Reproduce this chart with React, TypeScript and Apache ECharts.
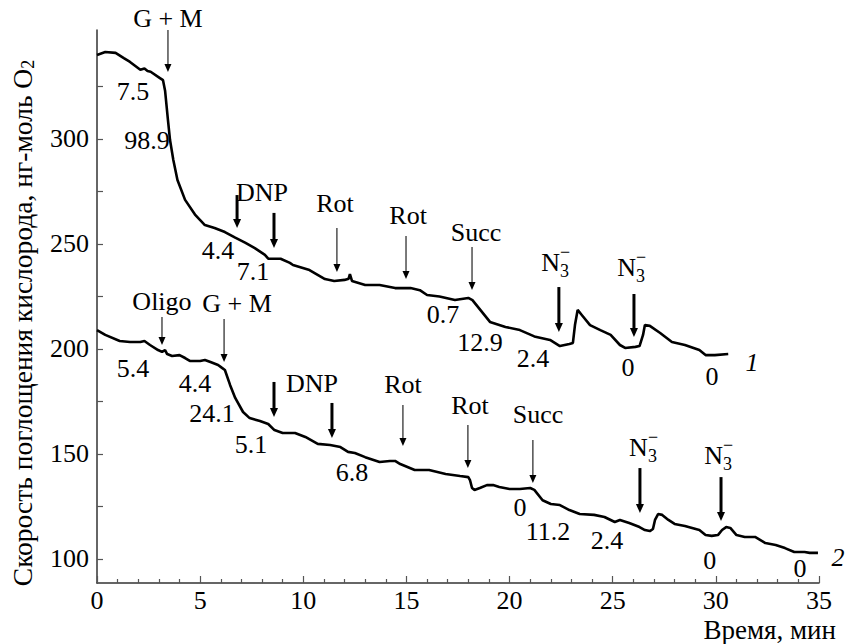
import React, { useEffect, useRef } from "react";
import * as echarts from "echarts";

// Trace 1 (upper curve): [time, min ; rate value]
const trace1: [number, number][] = [
  [0, 340], [0.4, 341.4], [0.9, 341], [1.3, 338.5], [1.6, 336.7], [2.1, 333], [2.3, 333.6], [2.45, 332.4],
  [2.6, 332], [3.05, 329], [3.2, 328], [3.3, 323], [3.44, 309], [3.54, 299.5], [3.7, 290], [3.9, 280.5],
  [4.27, 271], [4.75, 264], [5.23, 259], [5.7, 257.6], [6.2, 255.7], [6.7, 253], [7.2, 250.5], [7.65, 248],
  [8.14, 244.8], [8.3, 243], [8.9, 243], [9.35, 241], [9.5, 240], [10.3, 237.6], [11.05, 233.3], [11.5, 232.4],
  [12.0, 232.9], [12.2, 233.5], [12.26, 235.7], [12.36, 232.4], [13, 230.5], [13.7, 230.5], [14.45, 229],
  [15.2, 229], [15.65, 228], [16.0, 225.7], [16.6, 225], [17.35, 223.3], [18.0, 224.3], [18.2, 223.3],
  [19.05, 212.9], [19.8, 210.5], [20.5, 209], [21.2, 206], [21.96, 204.3], [22.44, 201.4], [22.9, 202.4],
  [23.07, 202.9], [23.17, 211.4], [23.3, 218.6], [23.5, 216.2], [23.9, 211.4], [24.4, 209], [24.9, 206.7],
  [25.35, 201.9], [25.6, 200.5], [26.1, 201], [26.3, 201.4], [26.47, 206.7], [26.56, 211.4], [26.8, 211],
  [27.3, 207.6], [27.87, 203.3], [28.5, 201.9], [29.2, 199.5], [29.5, 197.1], [29.95, 197.1], [30.6, 197.6],
];

// Trace 2 (lower curve)
const trace2: [number, number][] = [
  [0, 209], [0.4, 206.7], [1.1, 203.8], [1.6, 203.3], [2.1, 203.3], [2.3, 203.8], [2.57, 201.9], [2.96, 199.5],
  [3.15, 198.6], [3.3, 199.5], [3.4, 197.6], [3.64, 196.7], [4.0, 197.1], [4.27, 195.7], [4.5, 194.3],
  [5.0, 194.3], [5.23, 194.8], [5.5, 193.8], [5.87, 192.4], [6.06, 191], [6.2, 190], [6.45, 182.9],
  [6.7, 176.7], [7.08, 170], [7.4, 167.1], [7.9, 165.7], [8.3, 164.3], [8.6, 161.4], [9.0, 160], [9.6, 160],
  [10.1, 158.1], [10.7, 154.8], [11.3, 154.3], [11.8, 153.3], [12.17, 151], [12.5, 150.5], [13.0, 148.5],
  [13.7, 146.2], [14.2, 146.7], [14.45, 146.7], [14.7, 145.2], [15.4, 142.4], [16.1, 142.4], [16.9, 140.5],
  [17.6, 139.5], [18.0, 139], [18.08, 137.6], [18.18, 133.8], [18.3, 132.9], [18.56, 133.8], [18.9, 135.2],
  [19.2, 135.2], [19.5, 134.3], [20.0, 133.3], [20.5, 133.3], [21.0, 133.8], [21.2, 132.9], [21.6, 128],
  [22.0, 126.2], [22.44, 125.7], [22.9, 123.3], [23.4, 121.4], [24.1, 121], [24.6, 120], [25.1, 117.6],
  [25.35, 118.6], [25.8, 117.1], [26.3, 115.2], [26.56, 113.8], [26.8, 113.3], [26.95, 114.3], [27.05, 118.6],
  [27.2, 121.4], [27.4, 121], [27.7, 118.6], [28.0, 116.7], [28.5, 115.7], [29.2, 113.8], [29.5, 111.4],
  [29.8, 111], [30.1, 111.4], [30.3, 113.8], [30.5, 115.2], [30.7, 114.8], [31.0, 111.4], [31.4, 110.5],
  [31.9, 110.5], [32.4, 107.6], [32.9, 106.7], [33.35, 105.2], [33.8, 103.3], [34.3, 103.3], [34.55, 102.9],
  [34.95, 102.9],
];

// Arrows: [time, top value, tip value, thick(1)/thin(0)]
const arrows: [number, number, number, number][] = [
  [3.44, 351.9, 331.9, 0],
  [6.79, 273.3, 257.6, 1],
  [8.58, 264.8, 248.1, 1],
  [11.63, 257.6, 236.7, 0],
  [14.98, 253.8, 233.3, 0],
  [18.18, 248.6, 228.1, 0],
  [22.39, 229.5, 208.1, 1],
  [26.03, 226.2, 205.7, 1],
  [3.15, 215.2, 201.9, 0],
  [6.16, 214.3, 193.8, 0],
  [8.58, 184.3, 167.6, 1],
  [11.39, 174.3, 157.6, 1],
  [14.83, 173.3, 153.8, 0],
  [17.98, 163.8, 143.3, 0],
  [21.13, 156.7, 136.2, 0],
  [26.32, 143.3, 121.9, 1],
  [30.25, 139.0, 118.1, 1],
];

// Reagent labels: [text, time, value]
const reagents: [string, number, number][] = [
  ["G + M", 3.44, 357.6],
  ["DNP", 8.0, 274.3],
  ["Rot", 11.54, 269.5],
  ["Rot", 15.08, 263.8],
  ["Succ", 18.37, 255.7],
  ["Oligo", 3.15, 222.4],
  ["G + M", 6.79, 221.9],
  ["DNP", 10.42, 183.8],
  ["Rot", 14.83, 182.9],
  ["Rot", 18.08, 173.3],
  ["Succ", 21.38, 168.6],
];

// Azide labels (N3-): [time, value]
const azides: [number, number][] = [
  [22.3, 241.4],
  [25.98, 239.0],
  [26.56, 153.3],
  [30.2, 149.5],
];

// Rate numbers: [text, time, value]
const rates: [string, number, number][] = [
  ["7.5", 1.75, 322.4],
  ["98.9", 2.42, 299.5],
  ["4.4", 5.87, 247.1],
  ["7.1", 7.56, 236.7],
  ["0.7", 16.77, 216.2],
  ["12.9", 18.57, 203.3],
  ["2.4", 21.13, 195.7],
  ["0", 25.74, 191.4],
  ["0", 29.81, 186.7],
  ["5.4", 1.75, 190.5],
  ["4.4", 4.75, 183.8],
  ["24.1", 5.57, 169.5],
  ["5.1", 7.46, 154.3],
  ["6.8", 12.36, 141.4],
  ["0", 20.5, 124.3],
  ["11.2", 21.86, 112.9],
  ["2.4", 24.72, 109.0],
  ["0", 29.71, 99.5],
  ["0", 34.08, 95.7],
];

// Curve numbers: [text, time, value]
const curveNames: [string, number, number][] = [
  ["1", 31.75, 193.8],
  ["2", 35.92, 100.95],
];

const yTicks = [100, 125, 150, 175, 200, 225, 250, 275, 300, 325];
const yLabels = [100, 150, 200, 250, 300];

const FONT = "Liberation Serif";
const FS = 26;

export default function App() {
  const ref = useRef<HTMLDivElement>(null);
  useEffect(() => {
    if (!ref.current) return;
    const chart = echarts.init(ref.current, null, { renderer: "svg" });
    const ts = (size: number, extra?: any) => ({ fontFamily: FONT, fontSize: size, fill: "#000", ...extra });
    chart.setOption({
      animation: false,
      backgroundColor: "#fff",
      grid: { left: 97, right: 28, top: 30, bottom: 61, containLabel: false },
      xAxis: {
        type: "value",
        min: 0,
        max: 35,
        interval: 5,
        axisLine: { lineStyle: { color: "#333", width: 1.5 } },
        axisTick: { inside: true, length: 7, lineStyle: { color: "#555", width: 1.2 } },
        minorTick: { show: true, splitNumber: 5, length: 4, lineStyle: { color: "#555", width: 1.2 } },
        splitLine: { show: false },
        minorSplitLine: { show: false },
        axisLabel: { fontSize: FS, fontFamily: FONT, color: "#000", margin: 6, lineHeight: 22 },
      },
      yAxis: {
        type: "value",
        min: 88.57,
        max: 351.9,
        axisLine: { show: true, lineStyle: { color: "#333", width: 1.5 } },
        axisTick: { show: true, inside: true, length: 6, customValues: yTicks, lineStyle: { color: "#555", width: 1.2 } },
        axisLabel: { customValues: yLabels, fontSize: FS, fontFamily: FONT, color: "#000", margin: 8 },
        splitLine: { show: false },
      },
      series: [
        { type: "line", data: trace1, showSymbol: false, lineStyle: { color: "#000", width: 2.6 }, z: 3 },
        { type: "line", data: trace2, showSymbol: false, lineStyle: { color: "#000", width: 2.6 }, z: 3 },
      ],
    });

    const px = (t: number, v: number) => chart.convertToPixel({ gridIndex: 0 }, [t, v]) as number[];
    const g: any[] = [];
    arrows.forEach(([t, top, tip, thick]) => {
      const a = px(t, top);
      const b = px(t, tip);
      const hw = thick ? 4 : 3.5;
      const hl = thick ? 9 : 8;
      g.push({
        type: "line",
        shape: { x1: a[0], y1: a[1], x2: b[0], y2: b[1] - hl + 1 },
        style: { stroke: thick ? "#000" : "#222", lineWidth: thick ? 3 : 1.2 },
        silent: true,
      });
      g.push({
        type: "polygon",
        shape: { points: [[b[0] - hw, b[1] - hl], [b[0] + hw, b[1] - hl], [b[0], b[1]]] },
        style: { fill: "#000" },
        silent: true,
      });
    });
    reagents.forEach(([s, t, v]) => {
      const p = px(t, v);
      g.push({ type: "text", x: p[0], y: p[1], style: ts(FS, { text: s, align: "center", verticalAlign: "middle" }) });
    });
    azides.forEach(([t, v]) => {
      const p = px(t, v);
      g.push({ type: "text", x: p[0] + 3, y: p[1], style: ts(FS, { text: "N", align: "right", verticalAlign: "middle" }) });
      g.push({ type: "text", x: p[0] + 3, y: p[1] + 9, style: ts(18, { text: "3", align: "left", verticalAlign: "middle" }) });
      g.push({ type: "text", x: p[0] + 3, y: p[1] - 10, style: ts(18, { text: "\u2212", align: "left", verticalAlign: "middle" }) });
    });
    rates.forEach(([s, t, v]) => {
      const p = px(t, v);
      g.push({ type: "text", x: p[0], y: p[1], style: ts(FS, { text: s, align: "center", verticalAlign: "middle" }) });
    });
    curveNames.forEach(([s, t, v]) => {
      const p = px(t, v);
      g.push({ type: "text", x: p[0], y: p[1], style: ts(FS, { text: s, fontStyle: "italic", align: "center", verticalAlign: "middle" }) });
    });
    // axis titles
    g.push({
      type: "text", x: 22, y: 323, rotation: Math.PI / 2,
      style: {
        text: "{a|Скорость поглощения кислорода, нг-моль O}{s|2}",
        align: "center", verticalAlign: "middle",
        rich: {
          a: { fontFamily: FONT, fontSize: 27.5, fill: "#000" },
          s: { fontFamily: FONT, fontSize: 18, fill: "#000", padding: [11, 0, 0, 0] },
        },
      },
    });
    g.push({ type: "text", x: 836, y: 630, style: ts(27, { text: "Время, мин", align: "right", verticalAlign: "middle", lineHeight: 22 }) });
    chart.setOption({ graphic: g });

    return () => chart.dispose();
  }, []);
  return <div ref={ref} style={{ position: "absolute", left: 0, top: 0, width: 847, height: 644 }} />;
}
